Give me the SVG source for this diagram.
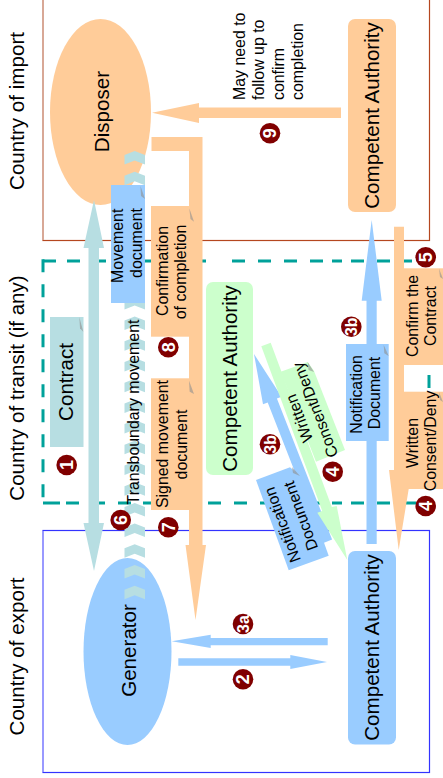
<svg xmlns="http://www.w3.org/2000/svg" xmlns:xlink="http://www.w3.org/1999/xlink" width="443" height="778" viewBox="0 0 443 778">
<style>
text{font-family:"Liberation Sans",Arial,sans-serif;fill:#000;text-anchor:middle}
.big{font-size:20.6px}
.sm{font-size:15.9px}
.o{fill:#ffcc99}.b{fill:#99ccff}.g{fill:#ccffcc}.t{fill:#b7dee2}
.fold{fill:#8f8f8f;opacity:.6}
.num{fill:#800000}
text.nt{fill:#fff;font-weight:bold;font-size:18px}
text.nts{fill:#fff;font-weight:bold;font-size:16px}
.dash{fill:none;stroke:#00a19a;stroke-width:3}
</style>
<defs>
<polygon id="chev" class="t" points="124.5,155 134.7,151 145,155 145,164.5 134.7,160.5 124.5,164.5"/>
</defs>
<rect width="443" height="778" fill="#fff"/>
<g id="frames">
<rect id="frame-import" x="43" y="-10" width="386.5" height="250.5" fill="none" stroke="#b5471f" stroke-width="1.2"/>
<line x1="43" y1="0" x2="43" y2="240" stroke="#d8a896" stroke-width="2"/>
<rect id="frame-export" x="43" y="530.5" width="386.5" height="242" fill="none" stroke="#3333ff" stroke-width="1.2"/>
<line x1="43" y1="531" x2="43" y2="772" stroke="#9999ff" stroke-width="2"/>
<g id="frame-transit">
<path class="dash" d="M43 261H56M67 261H80M93 261H106M145 261H151M202 261H206M232 261H245M258 261H271M284 261H297M310 261H323M332 261H342M351 261H364M377 261H390M403 261H412"/>
<path class="dash" d="M43 503H60M66 503H79M92 503H105M118 503H131M143 503H156M208 503H221M234 503H247M260 503H273M286 503H299M312 503H325M332 503H342M351 503H364M377 503H390M403 503H416"/>
<line class="dash" x1="43" y1="259.3" x2="43" y2="503" style="stroke-dasharray:13 12"/>
<line class="dash" x1="429" y1="375" x2="429" y2="388"/>
</g>
<text class="big" transform="translate(24 111) rotate(-90)">Country of import</text>
<text class="big" transform="translate(24 388) rotate(-90)">Country of transit (if any)</text>
<text class="big" transform="translate(24 656.5) rotate(-90)">Country of export</text>
</g>
<g id="disposer"><ellipse class="o" cx="100.5" cy="112" rx="50.5" ry="93"/><text class="big" transform="translate(108.5 111.5) rotate(-90)">Disposer</text></g>
<g id="generator"><ellipse class="b" cx="127.5" cy="651.5" rx="44" ry="93.5"/><text class="big" transform="translate(135.5 650.5) rotate(-90)">Generator</text></g>
<g id="ca-import"><rect class="o" x="348" y="19" width="48" height="193" rx="7"/><text class="big" transform="translate(379 115.5) rotate(-90)">Competent Authority</text></g>
<g id="ca-transit"><rect class="g" x="206" y="282" width="47" height="193" rx="7"/><text class="big" transform="translate(237 378.5) rotate(-90)">Competent Authority</text></g>
<g id="ca-export"><rect class="b" x="348" y="551" width="48" height="193.5" rx="7"/><text class="big" transform="translate(379 647.5) rotate(-90)">Competent Authority</text></g>
<g id="connectors">
<polygon id="c-9" class="o" points="341,107.5 199,107.5 199,103 152,112.7 199,123 199,118 341,118"/>
<polygon id="c-completion" class="o" points="151.5,137 202.5,137 202.5,545 206,545 195.5,620 185.5,545 189,545 189,151 151.5,151"/>
<polygon id="c-contract" class="t" points="94,200 104,248 99,248 99,523 104,523 94,571 83.5,523 88.5,523 88.5,248 83.5,248"/>
<polygon id="c-notify-up" class="b" points="366.5,544 366.5,300.7 361.7,300.7 371.7,220 381.7,300.7 376.7,300.7 376.7,544"/>
<polygon id="c-written-down" class="o" points="394,226.7 404,226.7 404,470 408.7,489 398.7,550 389,470 394,470"/>
<polygon id="c-3b-diag" class="b" points="254,354 281.6,396.8 276.9,398.6 332.1,539.5 322.8,543.2 267.7,402.4 263,404.2"/>
<polygon id="c-4-diag" class="g" points="261.3,346.3 270.7,342.7 331.8,507 336.7,506 347.3,560 317.3,512.7 322.2,510.9"/>
<polygon id="c-3a" class="b" points="327.7,638 210.7,638 210.7,634.7 171.7,641.3 210.7,648 210.7,645.3 327.7,645.3"/>
<polygon id="c-2" class="b" points="178.3,658.3 290.3,658.3 290.3,655 327,662 290.3,669 290.3,665.7 178.3,665.7"/>
<g id="c-6-chevrons">
<use xlink:href="#chev"/><use xlink:href="#chev" y="20.7"/><use xlink:href="#chev" y="41.4"/><use xlink:href="#chev" y="62.1"/><use xlink:href="#chev" y="82.8"/><use xlink:href="#chev" y="103.5"/><use xlink:href="#chev" y="124.2"/><use xlink:href="#chev" y="144.9"/><use xlink:href="#chev" y="165.6"/><use xlink:href="#chev" y="186.3"/><use xlink:href="#chev" y="207"/><use xlink:href="#chev" y="227.7"/><use xlink:href="#chev" y="248.4"/><use xlink:href="#chev" y="269.1"/><use xlink:href="#chev" y="289.8"/><use xlink:href="#chev" y="310.5"/><use xlink:href="#chev" y="331.2"/><use xlink:href="#chev" y="351.9"/><use xlink:href="#chev" y="372.6"/><use xlink:href="#chev" y="393.3"/><use xlink:href="#chev" y="414"/><use xlink:href="#chev" y="434.7"/>
</g>
</g>
<g id="label-9"><text class="sm" style="text-anchor:start" transform="translate(245 100) rotate(-90)">May need to</text><text class="sm" style="text-anchor:start" transform="translate(264 100) rotate(-90)">follow up to</text><text class="sm" style="text-anchor:start" transform="translate(283.5 100) rotate(-90)">confirm</text><text class="sm" style="text-anchor:start" transform="translate(303 100) rotate(-90)">completion</text></g>
<g id="label-transboundary"><text class="sm" transform="translate(139 412) rotate(-90)">Transboundary movement</text></g>
<g id="doc-contract"><rect class="t" x="50" y="317" width="33.5" height="130"/><polygon class="fold" points="79.3,317 83.3,331.7 80,328.3"/><text class="big" transform="translate(73 382) rotate(-90)">Contract</text></g>
<g id="doc-movement"><rect class="b" x="111" y="185" width="34" height="118"/><polygon class="fold" points="140.5,186 145,199 141,196"/><text class="sm" transform="translate(123.3 245.8) rotate(-90)">Movement</text><text class="sm" transform="translate(141.7 243) rotate(-90)">document</text></g>
<g id="doc-confirmation"><rect class="o" x="151" y="206" width="43.5" height="130.7"/><polygon class="fold" points="189.3,208.3 194,221.7 190.5,219"/><text class="sm" transform="translate(168.3 271) rotate(-90)">Confirmation</text><text class="sm" transform="translate(186 272) rotate(-90)">of completion</text></g>
<g id="doc-signed"><rect class="o" x="151" y="378.3" width="43.5" height="131.7"/><polygon class="fold" points="189,380.7 194,394 189.7,391.7"/><text class="sm" transform="translate(167.7 444) rotate(-90)">Signed movement</text><text class="sm" transform="translate(186.7 444.5) rotate(-90)">document</text></g>
<g id="doc-notification-v"><rect class="b" x="346" y="344" width="42.7" height="97"/><polygon class="fold" points="383.7,345 388.7,356 384.3,353.3"/><text class="sm" transform="translate(362 394.5) rotate(-90)">Notification</text><text class="sm" transform="translate(380 393) rotate(-90)">Document</text></g>
<g id="doc-written-r"><rect class="o" x="394" y="391.7" width="50" height="97.3"/><polygon class="fold" points="439,392 443,402 440,400"/><text class="sm" transform="translate(418 443) rotate(-90)">Written</text><text class="sm" transform="translate(436 441) rotate(-90)">Consent/Deny</text></g>
<g id="doc-confirm-contract"><rect class="o" x="394" y="268.3" width="50" height="96.7"/><polygon class="fold" points="439,268.5 443,279 440,277"/><text class="sm" transform="translate(418 316) rotate(-90)">Confirm the</text><text class="sm" transform="translate(436 316) rotate(-90)">Contract</text></g>
<g id="doc-written-diag"><polygon class="g" points="280.7,371.7 307.7,362 314,371 345,450 316,461.7"/><polygon class="fold" points="307.7,362 314,372 308.5,370"/><text class="sm" transform="translate(304.4 416.3) rotate(-111)">Written</text><text class="sm" transform="translate(320.4 408) rotate(-111)">Consent/Deny</text></g>
<g id="doc-notification-diag"><polygon class="b" points="256,480 290,467.3 300,475.7 328.7,555.8 288.7,570.3"/><polygon class="fold" points="292,467 300,476 293,473"/><text class="sm" transform="translate(287.5 523) rotate(-110)">Notification</text><text class="sm" transform="translate(305.9 514) rotate(-110)">Document</text></g>
<g id="badges">
<g id="badge-1"><circle class="num" cx="66.7" cy="465" r="10.3"/><text class="nt" transform="translate(73 465) rotate(-90)">1</text></g>
<g id="badge-2"><circle class="num" cx="243" cy="679.3" r="10.3"/><text class="nt" transform="translate(249.3 679.3) rotate(-90)">2</text></g>
<g id="badge-3a"><circle class="num" cx="243" cy="624" r="10.3"/><text class="nts" transform="translate(248.7 624) rotate(-90)">3a</text></g>
<g id="badge-3b-a"><circle class="num" cx="351.3" cy="326.7" r="10.3"/><text class="nts" transform="translate(357 326.7) rotate(-90)">3b</text></g>
<g id="badge-3b-b"><circle class="num" cx="270" cy="444.3" r="10.3"/><text class="nts" transform="translate(275.7 444.3) rotate(-90)">3b</text></g>
<g id="badge-4-a"><circle class="num" cx="332.7" cy="471.7" r="10.3"/><text class="nt" transform="translate(339 471.7) rotate(-90)">4</text></g>
<g id="badge-4-b"><circle class="num" cx="425.7" cy="506" r="10.3"/><text class="nt" transform="translate(432 506) rotate(-90)">4</text></g>
<g id="badge-5"><circle class="num" cx="425.7" cy="257.3" r="10.3"/><text class="nt" transform="translate(432 257.3) rotate(-90)">5</text></g>
<g id="badge-6"><circle class="num" cx="120.7" cy="520" r="10.3"/><text class="nt" transform="translate(127 520) rotate(-90)">6</text></g>
<g id="badge-7"><circle class="num" cx="168.3" cy="527.3" r="10.3"/><text class="nt" transform="translate(174.6 527.3) rotate(-90)">7</text></g>
<g id="badge-8"><circle class="num" cx="168.3" cy="347.3" r="10.3"/><text class="nt" transform="translate(174.6 347.3) rotate(-90)">8</text></g>
<g id="badge-9"><circle class="num" cx="270" cy="133.3" r="10.3"/><text class="nt" transform="translate(276.3 133.3) rotate(-90)">9</text></g>
</g>
</svg>
